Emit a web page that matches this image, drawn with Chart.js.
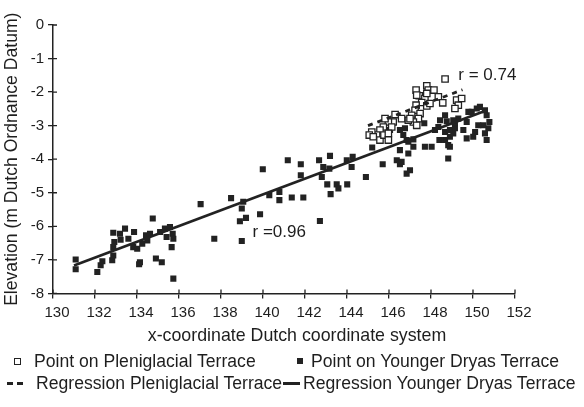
<!DOCTYPE html>
<html>
<head>
<meta charset="utf-8">
<script src="https://cdn.jsdelivr.net/npm/chart.js@4.4.1/dist/chart.umd.min.js"></script>
<style>
  html, body { margin: 0; padding: 0; background: #fff; }
  #wrap { position: relative; width: 584px; height: 407px; overflow: hidden; font-family: "Liberation Sans", Arial, sans-serif; color: #1e1e1e; }
  #c { position: absolute; left: 0; top: 0; }
  .lg { position: absolute; font-size: 17.6px; white-space: nowrap; line-height: 20px; }
  .mk { position: absolute; }
  #xt { position: absolute; left: 97px; width: 400px; text-align: center; top: 325px; font-size: 17.8px; line-height: 21px; white-space: nowrap; }
</style>
</head>
<body>
<div id="wrap">
  <canvas id="c" width="584" height="407"></canvas>
  <div id="xt"></div>
  <div class="mk" style="left:14px;top:358px;width:5px;height:5px;border:1px solid #222;background:#fff;"></div>
  <div class="lg" style="left:34px;top:351px;">Point on Pleniglacial Terrace</div>
  <div class="mk" style="left:297px;top:358px;width:6px;height:6px;background:#222;"></div>
  <div class="lg" style="left:311px;top:351px;">Point on Younger Dryas Terrace</div>
  <div class="mk" style="left:7px;top:382px;width:6px;height:3px;background:#222;"></div>
  <div class="mk" style="left:17px;top:382px;width:6px;height:3px;background:#222;"></div>
  <div class="lg" style="left:36px;top:373px;">Regression Pleniglacial Terrace</div>
  <div class="mk" style="left:283px;top:382px;width:17px;height:3px;background:#222;"></div>
  <div class="lg" style="left:303px;top:373px;">Regression Younger Dryas Terrace</div>
</div>
<script>
// ---- data ----
const pleniX = [148.67,147.29,147.80,147.87,148.14,148.35,148.56,147.44,147.71,147.56,147.29,147.80,147.24,147.48,147.08,147.40,147.16,147.32,146.92,146.60,146.29,146.20,145.97,146.13,145.81,145.73,145.57,145.41,145.18,145.06,145.25,145.57,145.76,145.97,145.97,149.22,149.30,149.14,149.46,147.32,147.00,147.95,147.80];
const pleniY = [-1.61,-1.94,-1.81,-1.94,-1.94,-2.14,-2.32,-2.11,-2.19,-2.31,-2.39,-2.41,-2.54,-2.64,-2.69,-2.79,-2.89,-2.99,-2.84,-2.79,-2.67,-2.89,-2.89,-3.04,-2.79,-3.04,-3.13,-3.28,-3.19,-3.28,-3.33,-3.43,-3.28,-3.23,-3.43,-2.24,-2.39,-2.49,-2.19,-2.09,-2.79,-2.34,-2.04];

const youngerX = [131.08,131.08,132.11,132.27,132.35,132.82,132.87,132.87,132.92,132.87,133.19,133.22,133.43,133.59,133.86,133.82,134.01,134.14,134.10,134.25,134.43,134.49,134.62,134.75,134.90,135.18,135.10,135.33,135.41,135.57,135.70,135.73,135.65,135.73,137.03,
  138.48,139.06,138.99,139.19,138.90,137.68,138.99,
  139.86,139.99,140.30,140.78,140.78,141.18,141.37,141.92,141.80,141.80,142.67,142.87,142.71,142.80,143.06,143.16,143.19,143.22,143.51,143.59,144.01,143.99,144.27,144.22,144.90,145.20,145.70,146.37,146.52,146.52,146.76,146.84,147.00,146.84,147.16,147.16,147.71,148.03,147.68,148.19,148.40,
  146.05,146.68,146.92,146.92,148.43,148.35,148.67,148.75,148.67,148.90,148.82,148.67,149.14,149.06,149.70,149.78,149.94,150.18,150.33,150.57,150.65,150.78,150.73,150.57,150.65,150.49,150.25,150.10,149.70,150.01,148.82,149.30,149.54,149.14,148.90,149.06,148.90,147.16,146.60,146.52];
const youngerY = [-6.99,-7.28,-7.36,-7.16,-7.04,-7.01,-6.87,-6.62,-6.47,-6.19,-6.22,-6.40,-6.07,-6.37,-6.17,-6.62,-6.67,-7.07,-7.13,-6.52,-6.27,-6.42,-6.22,-5.77,-6.96,-7.07,-6.17,-6.07,-6.32,-6.02,-6.22,-6.37,-6.62,-7.56,-5.34,
  -5.16,-5.27,-5.47,-5.75,-5.85,-6.37,-6.44,
  -5.64,-4.30,-5.07,-4.98,-5.22,-4.03,-5.14,-5.14,-4.15,-4.48,-4.03,-4.23,-5.84,-4.53,-4.75,-4.28,-3.90,-5.04,-4.75,-4.87,-4.75,-4.03,-3.93,-4.23,-4.53,-3.65,-4.15,-4.03,-4.15,-3.73,-3.08,-4.43,-4.33,-3.43,-3.63,-3.41,-3.63,-3.63,-2.93,-3.13,-3.43,
  -3.13,-3.28,-3.48,-3.83,-2.84,-3.04,-2.69,-2.87,-3.19,-3.33,-3.58,-3.43,-3.08,-3.23,-2.89,-2.59,-2.59,-2.49,-2.44,-2.54,-2.69,-2.89,-3.08,-3.23,-3.43,-2.99,-2.99,-3.19,-3.38,-3.33,-3.98,-2.79,-3.13,-2.93,-3.13,-2.84,-3.63,-2.84,-4.08,-3.13];

const pleniRegX = [145.0, 149.5];
const pleniRegY = [-3.0, -1.93];
const youngerRegX = [131.0, 150.5];
const youngerRegY = [-7.17, -2.58];

const rLabels = ["r =0.96", "r = 0.74"];
const rLabelX = [139.5, 149.3];
const rLabelY = [-6.18, -1.49];

const xTitle = "x-coordinate Dutch coordinate system";
const yTitle = "Elevation (m Dutch Ordnance Datum)";
const xMin = 130, xMax = 152, xStep = 2;
const yMin = -8, yMax = 0, yStep = 1;

// ---- build ----
document.getElementById('xt').textContent = xTitle;
const pts = (xs, ys) => xs.map((x, i) => ({ x: x, y: ys[i] }));
const INK = '#222';
const FONT = '"Liberation Sans", Arial, sans-serif';

const innerTicks = {
  id: 'innerTicks',
  afterDraw(chart) {
    const { ctx, chartArea: a, scales: { x, y } } = chart;
    ctx.save();
    ctx.strokeStyle = INK; ctx.lineWidth = 1.3;
    ctx.beginPath();
    x.ticks.forEach(t => { const p = x.getPixelForValue(t.value); ctx.moveTo(p, a.bottom); ctx.lineTo(p, a.bottom - 4); });
    y.ticks.forEach(t => { const p = y.getPixelForValue(t.value); ctx.moveTo(a.left, p); ctx.lineTo(a.left + 4, p); });
    ctx.stroke();
    ctx.restore();
  }
};
const rText = {
  id: 'rText',
  afterDatasetsDraw(chart) {
    const { ctx, scales: { x, y } } = chart;
    ctx.save();
    ctx.fillStyle = '#1e1e1e';
    ctx.font = '17px ' + FONT;
    ctx.textAlign = 'left'; ctx.textBaseline = 'middle';
    rLabels.forEach((s, i) => ctx.fillText(s, x.getPixelForValue(rLabelX[i]), y.getPixelForValue(rLabelY[i])));
    ctx.restore();
  }
};

new Chart(document.getElementById('c'), {
  type: 'scatter',
  data: {
    datasets: [
      { label: 'Regression Pleniglacial Terrace', data: pts(pleniRegX, pleniRegY), showLine: true, pointRadius: 0, borderColor: INK, borderWidth: 2.8, borderDash: [5, 5], fill: false },
      { label: 'Regression Younger Dryas Terrace', data: pts(youngerRegX, youngerRegY), showLine: true, pointRadius: 0, borderColor: INK, borderWidth: 2.8, fill: false },
      { label: 'Point on Pleniglacial Terrace', data: pts(pleniX, pleniY), pointStyle: 'rect', pointRadius: 4.5, borderColor: INK, backgroundColor: '#fff', borderWidth: 1.3 },
      { label: 'Point on Younger Dryas Terrace', data: pts(youngerX, youngerY), pointStyle: 'rect', pointRadius: 4.3, borderColor: INK, backgroundColor: INK, borderWidth: 0 }
    ]
  },
  options: {
    responsive: false,
    animation: false,
    devicePixelRatio: 1,
    layout: { padding: { left: 0, right: 69, top: 25, bottom: 61 } },
    plugins: { legend: { display: false }, tooltip: { enabled: false } },
    scales: {
      x: {
        type: 'linear', position: 'bottom', min: xMin, max: xMax,
        ticks: { stepSize: xStep, color: '#1e1e1e', font: { family: FONT, size: 15 }, padding: 5, labelOffset: 4, maxRotation: 0 },
        grid: { drawOnChartArea: false, drawTicks: true, tickLength: 5, color: INK, lineWidth: 1.3 },
        border: { display: true, color: INK, width: 1.5 },
        title: { display: false },
        afterFit(s) { s.height = 52.6; }
      },
      y: {
        type: 'linear', position: 'left', min: yMin, max: yMax,
        ticks: { stepSize: yStep, color: '#1e1e1e', font: { family: FONT, size: 15 }, padding: 4 },
        grid: { drawOnChartArea: false, drawTicks: true, tickLength: 5, color: INK, lineWidth: 1.3 },
        border: { display: true, color: INK, width: 1.5 },
        title: { display: true, text: yTitle, color: '#1e1e1e', font: { family: FONT, size: 17.6 }, padding: { top: 1.5, bottom: 0 } },
        afterFit(s) { s.width = 53; }
      }
    }
  },
  plugins: [innerTicks, rText]
});
</script>
</body>
</html>
